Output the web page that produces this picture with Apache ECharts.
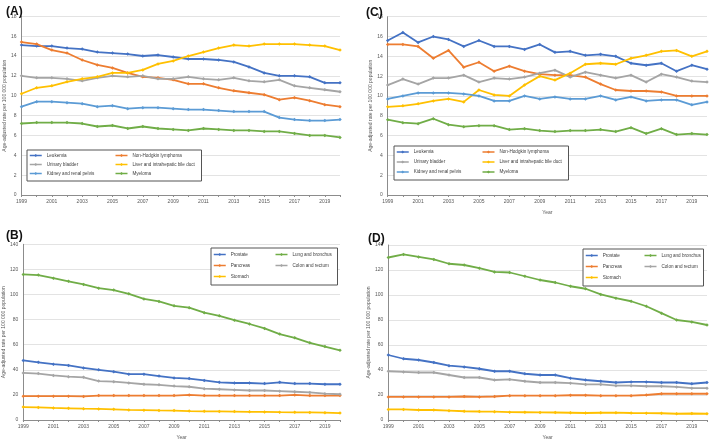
<!DOCTYPE html>
<html><head><meta charset="utf-8">
<script src="https://cdn.jsdelivr.net/npm/echarts@6/dist/echarts.min.js"></script>
<style>html,body{margin:0;padding:0;background:#fff}#c{width:709px;height:441px}</style>
</head><body><div id="c"></div>
<script>
const years = ['1999','2000','2001','2002','2003','2004','2005','2006','2007','2008','2009','2010','2011','2012','2013','2014','2015','2016','2017','2018','2019','2020'];
const namesTop = ['Leukemia','Non-Hodgkin lymphoma','Urinary bladder','Liver and intrahepatic bile duct','Kidney and renal pelvis','Myeloma'];
const namesBottom = ['Prostate','Lung and bronchus','Pancreas','Colon and rectum','Stomach'];

// Panel A
const A_leukemia = [15.1,15.0,15.0,14.8,14.7,14.4,14.3,14.2,14.0,14.1,13.9,13.7,13.7,13.6,13.4,12.9,12.3,12.0,12.0,11.9,11.3,11.3];
const A_nhl      = [15.4,15.2,14.6,14.3,13.6,13.1,12.8,12.3,11.9,11.8,11.6,11.2,11.2,10.8,10.5,10.3,10.1,9.6,9.8,9.5,9.1,8.9];
const A_bladder  = [12.0,11.8,11.8,11.7,11.5,11.8,12.0,11.9,12.0,11.7,11.7,11.9,11.7,11.6,11.8,11.5,11.4,11.6,11.0,10.8,10.6,10.4];
const A_liver    = [10.2,10.8,11.0,11.4,11.7,11.9,12.3,12.3,12.6,13.2,13.5,14.0,14.4,14.8,15.1,15.0,15.2,15.2,15.2,15.1,15.0,14.6];
const A_kidney   = [8.9,9.4,9.4,9.3,9.2,8.9,9.0,8.7,8.8,8.8,8.7,8.6,8.6,8.5,8.4,8.4,8.4,7.8,7.6,7.5,7.5,7.6];
const A_myeloma  = [7.2,7.3,7.3,7.3,7.2,6.9,7.0,6.7,6.9,6.7,6.6,6.5,6.7,6.6,6.5,6.5,6.4,6.4,6.2,6.0,6.0,5.8];

// Panel C
const C_leukemia = [15.6,16.4,15.4,16.0,15.7,15.0,15.6,15.0,15.0,14.7,15.2,14.4,14.5,14.1,14.2,14.0,13.3,13.1,13.3,12.5,13.1,12.7];
const C_nhl      = [15.2,15.2,15.0,13.8,14.6,12.9,13.4,12.5,13.0,12.5,12.2,12.1,12.1,11.9,11.2,10.6,10.5,10.5,10.4,10.0,10.0,10.0];
const C_bladder  = [11.1,11.7,11.2,11.8,11.8,12.1,11.4,11.8,11.7,11.9,12.3,12.6,11.9,12.4,12.1,11.8,12.1,11.4,12.2,11.9,11.5,11.4];
const C_liver    = [8.9,9.0,9.2,9.5,9.7,9.4,10.6,10.1,10.0,11.1,12.0,11.6,12.3,13.2,13.3,13.2,13.8,14.1,14.5,14.6,14.0,14.5];
const C_kidney   = [9.7,10.0,10.3,10.3,10.3,10.2,10.0,9.5,9.5,10.0,9.7,9.9,9.7,9.7,10.0,9.6,9.9,9.5,9.6,9.6,9.1,9.4];
const C_myeloma  = [7.6,7.3,7.2,7.7,7.1,6.9,7.0,7.0,6.6,6.7,6.5,6.4,6.5,6.5,6.6,6.4,6.8,6.2,6.7,6.1,6.2,6.1];

// Panel B
const B_prostate = [47.5,46,44.5,43.5,41.5,40,38.5,36.5,36.5,35,33.5,33,31.5,30,29.5,29.5,29,30,29,29,28.5,28.5];
const B_lung     = [116,115.5,113,110.5,108,105,103.5,100.5,96.5,94.5,91,89.5,85.5,83,79.5,76.5,73,68.5,65.5,61.5,58.5,55.5];
const B_pancreas = [19,19,19,19,18.8,19.5,19.5,19.5,19.5,19.5,19.5,20,19.5,19.5,19.5,19.5,19.5,19.5,20,19.5,19.5,19.5];
const B_colon    = [37.5,37,35.5,34.5,34,31,30.5,29.5,28.5,28,27,26.5,25,24.5,24,23.5,23.5,23,22.5,22,21,20.5];
const B_stomach  = [10.3,10,9.6,9.3,9,8.8,8.5,8,7.8,7.6,7.5,7.1,6.9,6.8,6.7,6.5,6.4,6.2,6.1,6,5.8,5.5];

// Panel D
const D_prostate = [52,49,48,46,43.5,42.5,41,39,39,37,36,36,33.5,32,31,30,30.5,30.5,30,30,29,30];
const D_lung     = [130,132.5,130.5,128.5,125,124,121.5,118.5,118,115,112,110,107,105,100.5,97.5,95,91,85.5,80,78.5,76];
const D_pancreas = [18.5,18.5,18.5,18.5,18.5,18.8,18.5,18.8,19.5,19.5,19.5,19.5,19.8,19.8,19.5,19.5,19.5,20,21,21,21,21];
const D_colon    = [39,38.5,38,38,36,34,34,32,32.5,31,30,30,29.5,28.5,28.5,27.5,27.5,27,27,26.5,25.5,25.5];
const D_stomach  = [8.5,8.5,8,8,7.5,7,6.8,6.7,6.3,6.2,6.1,6,5.8,5.6,5.8,5.9,5.6,5.5,5.4,5,5.2,5];

const colTop = ['#4472C4','#ED7D31','#A5A5A5','#FFC000','#5B9BD5','#70AD47'];
const colBottom = ['#4472C4','#70AD47','#ED7D31','#A5A5A5','#FFC000'];

const FONT = 'Liberation Sans, Arial, sans-serif';
const yName = 'Age-adjusted rate per 100 000 population';

const grids = [
  {left:21.5, right:369, top:16.3, bottom:246},
  {left:387.7, right:2, top:16.7, bottom:246},
  {left:21.7, right:369, top:244.3, bottom:19.3},
  {left:388.3, right:2, top:245, bottom:18.7}
];

function xAx(i, showName){
  return {type:'category', gridIndex:i, data:years, boundaryGap:false,
    name: showName ? 'Year' : '', nameLocation:'middle', nameGap:15,
    nameTextStyle:{fontSize:5, color:'#595959', fontFamily:FONT},
    axisLine:{lineStyle:{color:'#8c8c8c', width:1}},
    axisTick:{show:true, interval:0, length:2, lineStyle:{color:'#8c8c8c'}},
    axisLabel:{interval:1, fontSize:5, color:'#595959', fontFamily:FONT, margin:4}};
}
function yAx(i, max, interval){
  return {type:'value', gridIndex:i, min:0, max:max, interval:interval,
    name:yName, nameLocation:'middle', nameGap:12, nameRotate:90,
    nameTextStyle:{fontSize:5, color:'#595959', fontFamily:FONT},
    axisLine:{show:true, lineStyle:{color:'#8c8c8c', width:1}},
    axisTick:{show:false},
    splitLine:{lineStyle:{color:'#e3e3e3', width:1}},
    axisLabel:{fontSize:5, color:'#595959', fontFamily:FONT, margin:5}};
}
function ser(name, data, color, gi){
  return {type:'line', name:name, data:data, xAxisIndex:gi, yAxisIndex:gi,
    symbol:'diamond', symbolSize:3.5, showSymbol:true,
    color:color,
    lineStyle:{color:color, width:1.8}, itemStyle:{color:color}, emphasis:{disabled:true}, z:3};
}
function leg(names, left, top, textW, rowH, boxW, pad){
  return {data:names, left:left, top:top, orient:'horizontal', width:boxW,
    itemWidth:12, itemHeight:4, itemGap:0, padding:pad,
    borderColor:'#555', borderWidth:1, backgroundColor:'#fff',
    itemStyle:{borderWidth:0},
    lineStyle:{width:1.5},
    textStyle:{fontSize:4.6, color:'#404040', fontFamily:FONT, width:textW, lineHeight:rowH, height:rowH, overflow:'none'},
    selectedMode:false};
}

const topA = [A_leukemia,A_nhl,A_bladder,A_liver,A_kidney,A_myeloma];
const topC = [C_leukemia,C_nhl,C_bladder,C_liver,C_kidney,C_myeloma];
const botB = [B_prostate,B_lung,B_pancreas,B_colon,B_stomach];
const botD = [D_prostate,D_lung,D_pancreas,D_colon,D_stomach];

const series = [];
namesTop.forEach((n,k)=>series.push(ser(n, topA[k], colTop[k], 0)));
namesTop.forEach((n,k)=>series.push(ser(n, topC[k], colTop[k], 1)));
namesBottom.forEach((n,k)=>series.push(ser(n, botB[k], colBottom[k], 2)));
namesBottom.forEach((n,k)=>series.push(ser(n, botD[k], colBottom[k], 3)));

const chart = echarts.init(document.getElementById('c'), null, {renderer:'canvas'});
chart.setOption({
  animation:false,
  backgroundColor:'#fff',
  grid:grids,
  xAxis:[xAx(0,false), xAx(1,true), xAx(2,true), xAx(3,true)],
  yAxis:[yAx(0,18,2), yAx(1,18,2), yAx(2,140,20), yAx(3,140,20)],
  legend:[
    leg(namesTop, 27, 150, 68, 9, 172, [1,1,3,2]),
    leg(namesTop, 394, 146, 68, 10, 172, [1,1,3,2]),
    leg(namesBottom, 211, 248, 44, 11, 124, [1,1,3,2]),
    leg(namesBottom, 583, 249, 41, 11, 118, [1,1,3,2])
  ],
  title:[
    {text:'(A)', left:1, top:1, textStyle:{fontSize:12, fontWeight:'bold', color:'#111', fontFamily:FONT}},
    {text:'(C)', left:361, top:2, textStyle:{fontSize:12, fontWeight:'bold', color:'#111', fontFamily:FONT}},
    {text:'(B)', left:1, top:225, textStyle:{fontSize:12, fontWeight:'bold', color:'#111', fontFamily:FONT}},
    {text:'(D)', left:363, top:228, textStyle:{fontSize:12, fontWeight:'bold', color:'#111', fontFamily:FONT}}
  ],
  series:series
});
</script></body></html>
